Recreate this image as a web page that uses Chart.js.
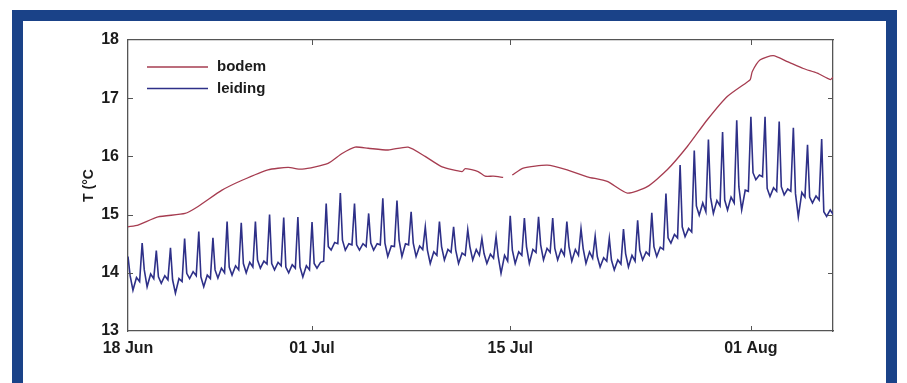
<!DOCTYPE html>
<html>
<head>
<meta charset="utf-8">
<script src="https://cdn.jsdelivr.net/npm/chart.js@4.4.1/dist/chart.umd.min.js"></script>
<style>
  html, body { margin: 0; padding: 0; background: #fff; }
  body { width: 907px; height: 383px; position: relative; overflow: hidden; }
  #frame {
    position: absolute; left: 12px; top: 10px; width: 885px; height: 400px;
    box-sizing: border-box; border: 11px solid #1a4288; border-bottom: none; background: #fff;
  }
  #chart-temp { position: absolute; left: 23px; top: 21px; }
</style>
</head>
<body>
<div id="frame"></div>
<canvas id="chart-temp" width="873" height="362"></canvas>
<script>
// x values are days since 18 Jun
const tickDays   = [0, 13, 27, 44];
const tickLabels = ['18 Jun', '01 Jul', '15 Jul', '01 Aug'];
const yTicks     = [13, 14, 15, 16, 17, 18];

// bodem (soil temperature), smooth curve; null = gap in record
const bodemDays = [0, 0.71, 2.12, 4.03, 4.95, 6.64, 8.06, 9.89, 11.31, 12.3, 14.13, 15.12, 16.04, 16.96,
    18.37, 19.79, 20.99, 22.19, 23.6, 23.82, 24.73, 25.23, 25.8, 26.5, 26.8, 27.14, 27.92, 29.61,
    31.02, 32.44, 33.85, 35.27, 36.68, 38.09, 39.51, 40.92, 42.33, 43.75, 43.96, 44.1, 44.66,
    45.58, 46.57, 47.7, 48.69, 49.61, 49.8];
const bodemTemp = [14.79, 14.82, 14.96, 15.02, 15.14, 15.42, 15.59, 15.77, 15.81, 15.78, 15.88, 16.05, 16.16, 16.14,
    16.11, 16.16, 16.0, 15.82, 15.74, 15.79, 15.74, 15.66, 15.66, 15.64, null, 15.68, 15.8, 15.85,
    15.77, 15.65, 15.57, 15.37, 15.48, 15.77, 16.17, 16.63, 17.03, 17.28, 17.32, 17.46, 17.66,
    17.73, 17.63, 17.51, 17.43, 17.32, 17.36];

// leiding (pipe temperature), per day: daily peak, plateau after it, dip, middle bump, level before next rise
const sampleOffsets = [0, 0.15, 0.35, 0.6, 0.82];
const leidingPeak = [14.28, 14.51, 14.38, 14.43, 14.59, 14.71, 14.60, 14.88, 14.86, 14.88,
    15.00, 14.95, 14.96, 14.87, 15.19, 15.37, 15.19, 15.02, 15.28, 15.24,
    15.05, 14.79, 14.88, 14.79, 14.74, 14.59, 14.62, 14.98, 14.94, 14.96,
    14.94, 14.88, 14.76, 14.63, 14.59, 14.75, 14.90, 15.03, 15.36, 15.85,
    16.10, 16.29, 16.42, 16.62, 16.68, 16.68, 16.60, 16.49, 16.20, 16.30];
const leidingPlateau = [13.95, 14.05, 13.93, 13.88, 13.99, 13.93, 14.05, 14.10, 14.16, 14.22,
    14.16, 14.10, 14.10, 14.16, 14.45, 14.56, 14.48, 14.51, 14.51, 14.56,
    14.51, 14.39, 14.45, 14.39, 14.45, 14.33, 14.28, 14.39, 14.45, 14.48,
    14.42, 14.45, 14.42, 14.28, 14.22, 14.33, 14.39, 14.45, 14.60, 14.79,
    15.15, 15.30, 15.25, 15.48, 15.72, 15.45, 15.48, 15.36, 15.30, 15.05];
const leidingDip = [13.70, 13.76, 13.82, 13.65, 13.90, 13.76, 13.91, 13.96, 14.00, 14.08,
    14.05, 14.00, 13.93, 14.08, 14.39, 14.39, 14.39, 14.39, 14.28, 14.28,
    14.28, 14.16, 14.22, 14.16, 14.22, 14.16, 13.99, 14.16, 14.16, 14.22,
    14.22, 14.20, 14.16, 14.10, 14.05, 14.10, 14.22, 14.28, 14.51, 14.62,
    14.99, 15.02, 15.08, 15.08, 15.60, 15.31, 15.34, 14.96, 15.20, 14.97];
const leidingMid = [13.92, 13.98, 13.95, 13.90, 14.02, 13.96, 14.08, 14.12, 14.18, 14.20,
    14.18, 14.14, 14.12, 14.18, 14.52, 14.50, 14.50, 14.50, 14.46, 14.50,
    14.46, 14.36, 14.40, 14.34, 14.40, 14.32, 14.30, 14.36, 14.40, 14.42,
    14.40, 14.40, 14.36, 14.26, 14.22, 14.30, 14.36, 14.44, 14.66, 14.76,
    15.20, 15.24, 15.30, 15.42, 15.68, 15.46, 15.44, 15.38, 15.32, 15.08];
const leidingPre = [13.85, 13.90, 13.88, 13.85, 13.95, 13.90, 14.00, 14.05, 14.10, 14.15,
    14.12, 14.08, 14.05, 14.20, 14.50, 14.48, 14.45, 14.48, 14.45, 14.48,
    14.40, 14.30, 14.35, 14.30, 14.30, 14.25, 14.20, 14.30, 14.35, 14.35,
    14.30, 14.30, 14.25, 14.20, 14.15, 14.20, 14.30, 14.40, 14.60, 14.70,
    15.05, 15.15, 15.20, 15.40, 15.65, 15.40, 15.40, 15.30, 15.25, 15.00];

const TEXT = '#1c1c1c';
const AXIS = '#555';
const FONT = { family: 'Liberation Sans, Arial, sans-serif', size: 16, weight: 'bold' };

const bodemData = bodemDays.map((d, i) => ({ x: d, y: bodemTemp[i] }));
const leidingData = [];
leidingPeak.forEach((_, k) => {
    const vals = [leidingPeak[k], leidingPlateau[k], leidingDip[k], leidingMid[k], leidingPre[k]];
    sampleOffsets.forEach((o, j) => leidingData.push({ x: k + o, y: vals[j] }));
});

// MATLAB-style inward tick marks + legend inside the axes
const matlabAxes = {
    id: 'matlabAxes',
    afterDatasetsDraw(chart) {
        const { ctx, chartArea: a, scales } = chart;
        ctx.save();
        ctx.strokeStyle = AXIS;
        ctx.lineWidth = 1;
        ctx.beginPath();
        for (const v of yTicks.slice(1, -1)) {
            const y = Math.round(scales.y.getPixelForValue(v)) + 0.5;
            ctx.moveTo(a.left, y);  ctx.lineTo(a.left + 5, y);
            ctx.moveTo(a.right, y); ctx.lineTo(a.right - 5, y);
        }
        for (const d of tickDays.slice(1)) {
            const x = Math.round(scales.x.getPixelForValue(d)) + 0.5;
            ctx.moveTo(x, a.bottom); ctx.lineTo(x, a.bottom - 5);
            ctx.moveTo(x, a.top);    ctx.lineTo(x, a.top + 5);
        }
        ctx.stroke();

        // legend
        ctx.font = `${FONT.weight} 15px ${FONT.family}`;
        ctx.textBaseline = 'middle';
        chart.data.datasets.forEach((ds, i) => {
            const y = a.top + 27 + i * 21.5;
            ctx.strokeStyle = ds.borderColor;
            ctx.lineWidth = 1.3;
            ctx.beginPath();
            ctx.moveTo(a.left + 19, y); ctx.lineTo(a.left + 80, y);
            ctx.stroke();
            ctx.fillStyle = TEXT;
            ctx.fillText(ds.label, a.left + 89, y);
        });
        ctx.restore();
    },
};

const border = { display: true, color: AXIS, width: 1.3 };

new Chart(document.getElementById('chart-temp'), {
    type: 'line',
    data: {
        datasets: [
            { label: 'bodem', data: bodemData, borderColor: '#a63c50', borderWidth: 1.3,
              pointRadius: 0, tension: 0.2, spanGaps: false },
            { label: 'leiding', data: leidingData, borderColor: '#2e3088', borderWidth: 1.6,
              pointRadius: 0, tension: 0 },
        ],
    },
    options: {
        responsive: false,
        animation: false,
        layout: { padding: 0 },
        plugins: { legend: { display: false }, tooltip: { enabled: false } },
        scales: {
            x: {
                type: 'linear', position: 'bottom', min: 0, max: 49.8,
                grid: { display: false }, border,
                afterBuildTicks: s => { s.ticks = tickDays.map(v => ({ value: v })); },
                ticks: { color: TEXT, font: FONT, padding: 0, maxRotation: 0, autoSkip: false,
                         callback: v => tickLabels[tickDays.indexOf(v)] },
                afterFit: s => { s.height = 52; },
            },
            x2: {
                type: 'linear', position: 'top', min: 0, max: 49.8,
                grid: { display: false }, border, ticks: { display: false },
                afterFit: s => { s.height = 19; },
            },
            y: {
                min: 13, max: 18, position: 'left',
                grid: { display: false }, border,
                afterBuildTicks: s => { s.ticks = yTicks.map(v => ({ value: v })); },
                ticks: { color: TEXT, font: FONT, padding: 1 },
                title: { display: true, text: 'T (°C', color: TEXT,
                         font: { family: FONT.family, size: 14, weight: 'bold' }, padding: { top: 58, bottom: 0 } },
                afterFit: s => { s.width = 105; },
            },
            y2: {
                min: 13, max: 18, position: 'right',
                grid: { display: false }, border, ticks: { display: false },
                afterFit: s => { s.width = 63; },
            },
        },
    },
    plugins: [matlabAxes],
});
</script>
</body>
</html>
